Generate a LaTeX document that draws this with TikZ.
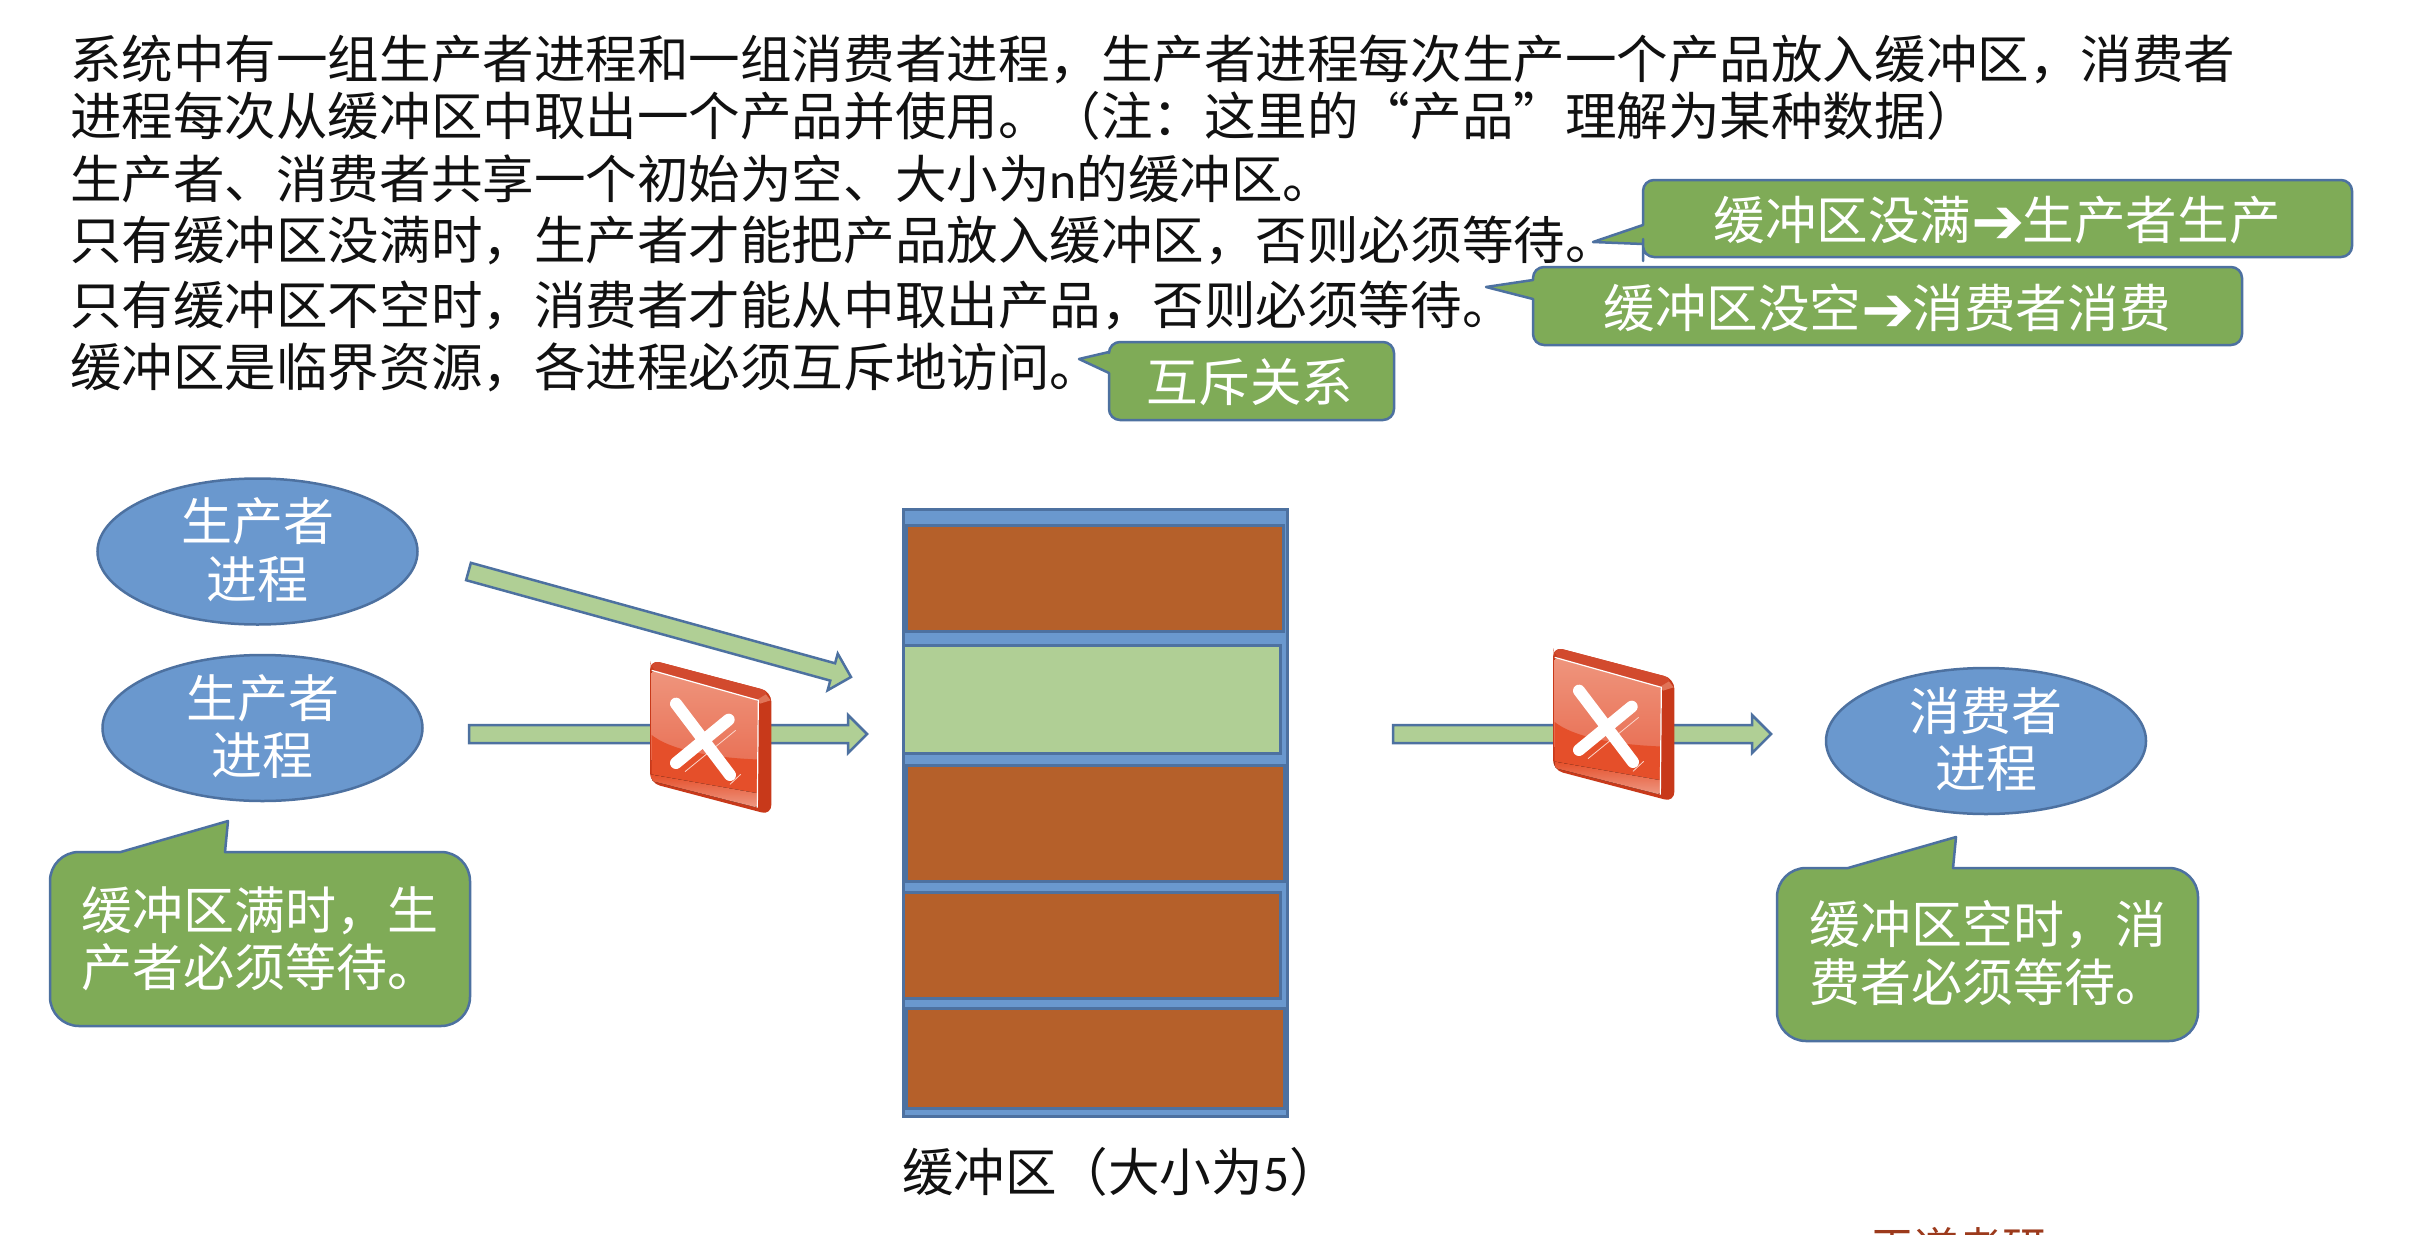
\documentclass[tikz,border=0pt]{standalone}
\usepackage{fontspec}
\usetikzlibrary{calc,shapes.geometric}
\setmainfont{Noto Sans CJK SC}
\newfontfamily\latinfont{Carlito}
\newfontfamily\arrowfont{DejaVu Sans}
\definecolor{bluefill}{HTML}{6A98CE}
\definecolor{blueline}{HTML}{4D71A0}
\definecolor{greenfill}{HTML}{7FAB57}
\definecolor{paleg}{HTML}{B0CF95}
\definecolor{brownfill}{HTML}{B5602A}
\definecolor{logored}{HTML}{9C3A1C}
\definecolor{txtblack}{HTML}{111111}
\definecolor{iconside}{HTML}{C8391A}
\definecolor{icontop}{HTML}{D24A2E}
\definecolor{iconcorner}{HTML}{E07458}
\definecolor{iconhi}{HTML}{EF967E}
\definecolor{iconmid}{HTML}{E97257}
\definecolor{iconlow}{HTML}{E54F2A}
\definecolor{iconbot}{HTML}{EFA08C}
\definecolor{iconglint}{HTML}{FBD5CA}
\newcommand{\hugefont}{\fontsize{51}{57.5}\selectfont}
\newcommand{\parafont}{\fontsize{51.55}{58}\selectfont}
\newcommand{\latn}[1]{{\latinfont #1}}
\newcommand{\barrow}{\raisebox{-4pt}{\arrowfont\fontsize{64}{64}\selectfont ➔}\kern-2pt}
\tikzset{
  proc/.style={ellipse,draw=blueline,fill=bluefill,line width=2.5pt,minimum width=320pt,minimum height=146pt,inner sep=0pt},
  proctext/.style={yshift=1.5pt,inner sep=0pt,text=white,font=\hugefont,align=center},
  para/.style={anchor=west,inner sep=0pt,text=txtblack,font=\parafont,text height=45pt,text depth=6pt},
  bubble/.style={draw=blueline,fill=greenfill,line width=2.5pt,line join=round},
  bubbletext/.style={inner sep=0pt,text=white,font=\parafont,text height=45pt,text depth=6pt},
  bubblepara/.style={anchor=west,inner sep=0pt,text=white,font=\hugefont,align=left},
  blockarrow/.style={draw=blueline,fill=paleg,line width=2.5pt,line join=miter},
  slot/.style={draw=blueline,fill=brownfill,line width=3pt,inner sep=0pt},
}
% block arrow between two named coordinates
\newcommand{\blockarrow}[2]{%
  \path ($(#2)!19pt!(#1)$) coordinate (hb);
  \draw[blockarrow] ($(#1)!9pt!90:(#2)$) -- ($(hb)!9pt!90:(#2)$) -- ($(hb)!19pt!90:(#2)$) -- (#2)
     -- ($(hb)!19pt!-90:(#2)$) -- ($(hb)!9pt!-90:(#2)$) -- ($(#1)!9pt!-90:(#2)$) -- cycle;
}
% red cross icon, local units = 1/3 px
\newcommand{\crossicon}[2]{%
  \begin{scope}[shift={(#1,#2)},x=0.3333pt,y=-0.3333pt]
    \fill[iconside,rounded corners=10pt] (0,-4) -- (364,92) -- (364,462) -- (0,366) -- cycle;
    \fill[icontop,rounded corners=10pt] (0,-4) -- (364,92) -- (330,122) -- (4,30) -- cycle;
    \fill[iconcorner] (322,116) -- (348,100) -- (362,118) -- (330,128) -- cycle;
    \begin{scope}
      \clip[rounded corners=3pt] (5,28) -- (325,118) -- (322,440) -- (5,360) -- cycle;
      \fill[top color=iconhi,bottom color=iconmid] (0,20) rectangle (340,300);
      \fill[iconlow] (0,218) .. controls (60,270) and (200,292) .. (340,296) -- (340,445) -- (0,445) -- cycle;
      \fill[top color=iconlow,bottom color=iconbot] (0,340) -- (340,400) -- (340,450) -- (0,375) -- cycle;
    \end{scope}
    \draw[white,line width=1.2pt] (5,28) -- (325,118) -- (322,440);
    \draw[iconglint,line width=0.8pt] (105,332) -- (257,208);
    \draw[iconglint,line width=0.8pt] (240,370) -- (272,340);
    \draw[white,line width=12pt,line cap=round] (78,128) -- (240,342);
    \draw[white,line width=12pt,line cap=round] (236,176) -- (78,306);
  \end{scope}
}
\begin{document}
\begin{tikzpicture}[x=1pt,y=-1pt]
\useasboundingbox (0,0) rectangle (2430,1234);
\fill[white] (0,0) rectangle (2430,1234);

% paragraph
\node[para] (l1) at (70,59) {系统中有一组生产者进程和一组消费者进程，生产者进程每次生产一个产品放入缓冲区，消费者};
\node[para] (l2) at (70,116) {进程每次从缓冲区中取出一个产品并使用。（注：这里的“产品”理解为某种数据）};
\node[para] (l3) at (70,179) {生产者、消费者共享一个初始为空、大小为\latn{n}的缓冲区。};
\node[para] (l4) at (70,240) {只有缓冲区没满时，生产者才能把产品放入缓冲区，否则必须等待。};
\node[para] (l5) at (70,305) {只有缓冲区不空时，消费者才能从中取出产品，否则必须等待。};
\node[para] (l6) at (70,367) {缓冲区是临界资源，各进程必须互斥地访问。};

% top callouts
\draw[bubble,rounded corners=11pt] (1643,225) -- (1643,180) -- (2352,180) -- (2352,257) -- (1643,257) -- (1643,250) [sharp corners] -- (1643,244) -- (1593,242) -- cycle;
\node[bubbletext] (c1) at (1997,220) {缓冲区没满\barrow 生产者生产};
\draw[bubble,rounded corners=11pt] (1533,280) -- (1533,267) -- (2242,267) -- (2242,345) -- (1533,345) -- (1533,320) [sharp corners] -- (1533,299) -- (1486,287) -- cycle;
\node[bubbletext] (c2) at (1887,308) {缓冲区没空\barrow 消费者消费};
\draw[bubble,rounded corners=11pt] (1109,352) -- (1109,342) -- (1394,342) -- (1394,420) -- (1109,420) -- (1109,390) [sharp corners] -- (1109,373) -- (1079,359) -- cycle;
\node[bubbletext] (c3) at (1250,382) {互斥关系};

% processes
\node[proc] (p1) at (257.5,551.5) {};
\node[proctext] (p1t) at (p1) {生产者\\进程};
\node[proc] (p2) at (262.5,728) {};
\node[proctext] (p2t) at (p2) {生产者\\进程};
\node[proc] (cons) at (1986,741) {};
\node[proctext] (const) at (cons) {消费者\\进程};

% buffer
\node[draw=blueline,fill=bluefill,line width=3pt,inner sep=0pt,minimum width=384pt,minimum height=607pt] (buf) at (1095,813) {};
\node[slot,minimum width=377pt,minimum height=106pt] (s1) at (1095,578.5) {};
\node[slot,fill=paleg,minimum width=377pt,minimum height=108pt] (s2) at (1091.5,699) {};
\node[slot,minimum width=378pt,minimum height=116pt] (s3) at (1095.5,823) {};
\node[slot,minimum width=377pt,minimum height=106pt] (s4) at (1091.5,945) {};
\node[slot,minimum width=378pt,minimum height=100pt] (s5) at (1095.5,1058) {};
\node[anchor=west,inner sep=0pt,text=txtblack,font=\parafont,text height=45pt,text depth=6pt] (buflabel) at (902,1172) {缓冲区（大小为\latn{5}）};

% arrows
\coordinate (a1s) at (468.5,571.5);
\coordinate (a1e) at (851,677);
\coordinate (a2s) at (469,734);
\coordinate (a2e) at (867,734);
\coordinate (a3s) at (1393,734);
\coordinate (a3e) at (1771,734);
\blockarrow{a1s}{a1e}
\blockarrow{a2s}{a2e}
\blockarrow{a3s}{a3e}
\crossicon{650}{661}
\crossicon{1553}{648}

% lower callouts
\draw[bubble,rounded corners=29pt] (120.7,852) -- (50,852) -- (50,1026) -- (470,1026) -- (470,852) -- (300,852) [sharp corners] -- (225,852) -- (228,821) -- cycle;
\node[bubblepara] (n1) at (81,938.6) {缓冲区满时，生\\产者必须等待。};
\draw[bubble,rounded corners=29pt] (1848,868) -- (1777,868) -- (1777,1041) -- (2198,1041) -- (2198,868) -- (2050,868) [sharp corners] -- (1953,868) -- (1956,837) -- cycle;
\node[bubblepara] (n2) at (1809,953) {缓冲区空时，消\\费者必须等待。};

% logo fragment at the page edge
\begin{scope}
\clip (1800,1200) rectangle (2100,1234);
\node[inner sep=0pt,text=logored,font=\fontsize{44}{44}\selectfont,text height=38pt,text depth=6pt] (logo) at (1958,1248) {王道考研};
\end{scope}
\end{tikzpicture}
\end{document}
